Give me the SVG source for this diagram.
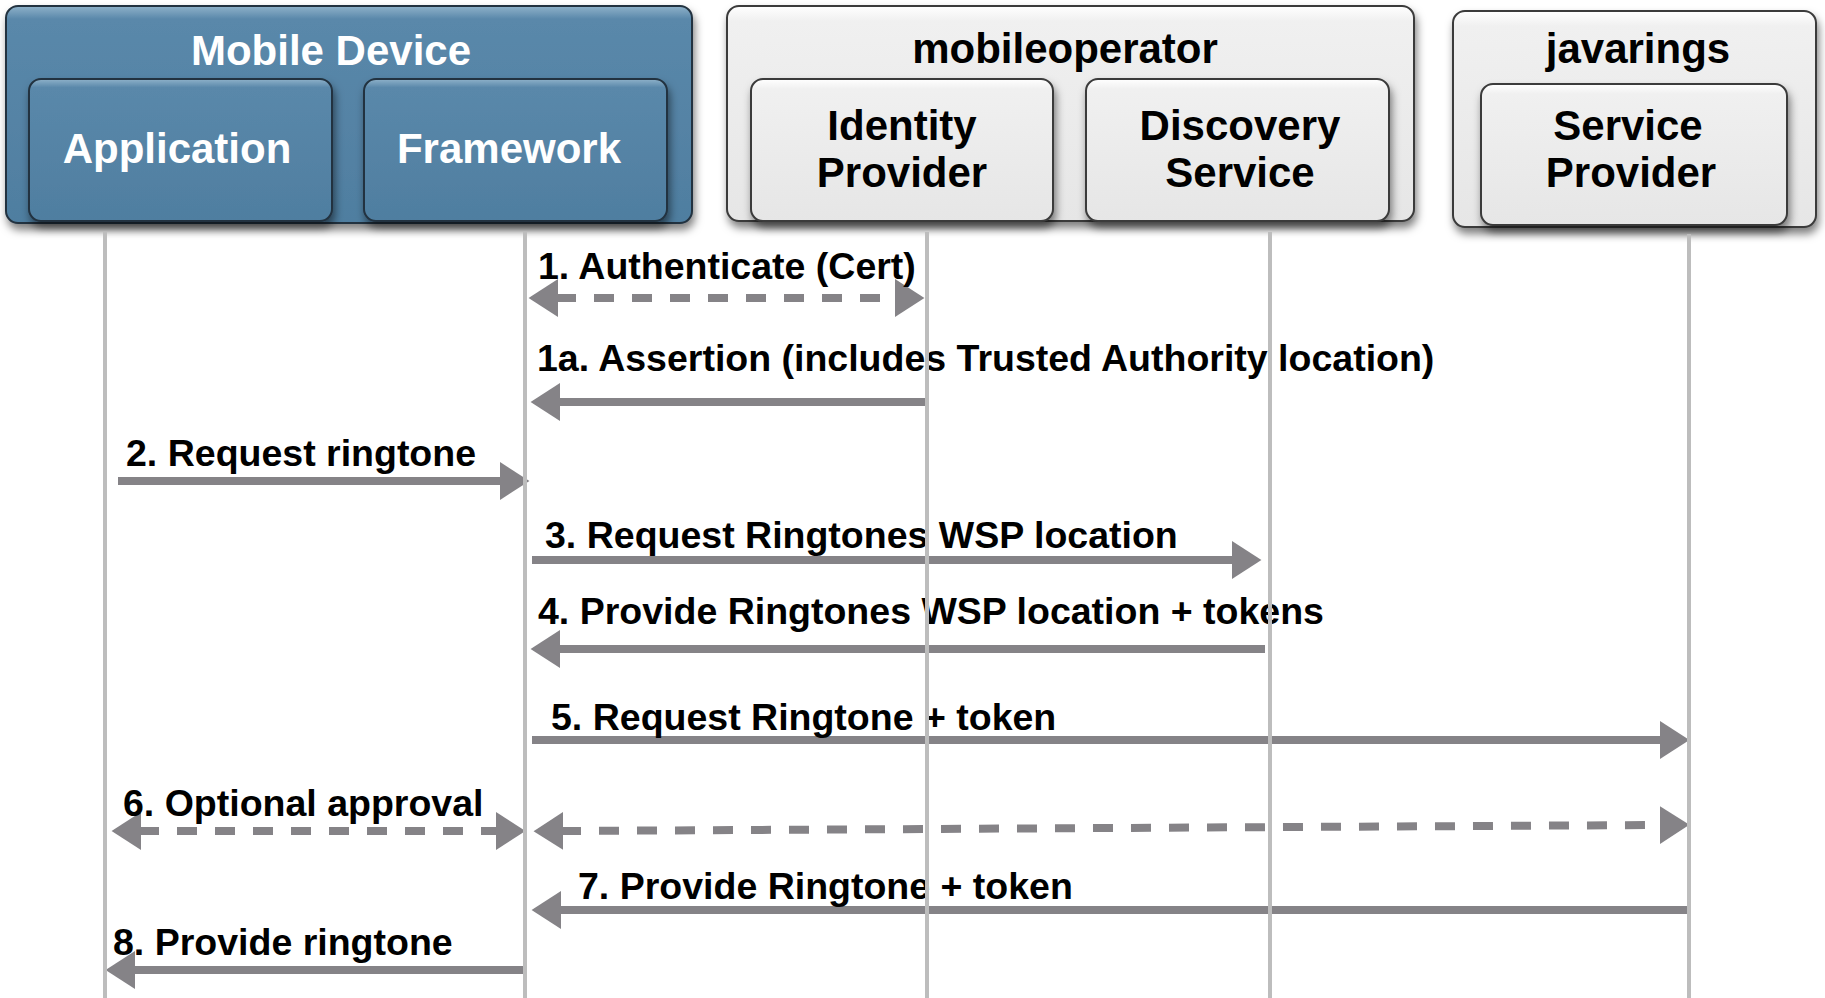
<svg xmlns="http://www.w3.org/2000/svg" width="1825" height="998" viewBox="0 0 1825 998">
<defs>
<filter id="sh" x="-10%" y="-10%" width="120%" height="130%">
<feDropShadow dx="2" dy="6" stdDeviation="4" flood-color="#000" flood-opacity="0.5"/>
</filter>
<linearGradient id="blue" x1="0" y1="0" x2="0" y2="1">
<stop offset="0" stop-color="#8fb2ca"/>
<stop offset="0.06" stop-color="#5a88aa"/>
<stop offset="1" stop-color="#4f7ea0"/>
</linearGradient>
<linearGradient id="gray" x1="0" y1="0" x2="0" y2="1">
<stop offset="0" stop-color="#ffffff"/>
<stop offset="0.07" stop-color="#f0f0f0"/>
<stop offset="1" stop-color="#e6e6e6"/>
</linearGradient>
<marker id="ah" markerUnits="userSpaceOnUse" markerWidth="30" markerHeight="38" viewBox="0 0 28 36" refX="2" refY="18" orient="auto-start-reverse">
<path d="M0,0 L28,18 L0,36 z" fill="#858387"/>
</marker>
<style>
.bo{fill:url(#blue);stroke:#22323f;stroke-width:2;filter:url(#sh)}
.go{fill:url(#gray);stroke:#3a3a3a;stroke-width:2;filter:url(#sh)}
.t{font-family:"Liberation Sans",Arial,sans-serif;font-weight:bold;font-size:42px;text-anchor:middle}
.w{fill:#ffffff}
.k{fill:#000000}
.life{stroke:#bdbdbd;stroke-width:4;fill:none}
.ar{stroke:#858387;stroke-width:8;fill:none;marker-end:url(#ah)}
.dd{stroke:#858387;stroke-width:8;fill:none;stroke-dasharray:20 18;marker-start:url(#ah);marker-end:url(#ah)}
.lb{font-family:"Liberation Sans",Arial,sans-serif;font-weight:bold;font-size:37.5px;fill:#000}
</style>
</defs>

<g id="mobile-device">
<rect class="bo" x="6" y="6" width="686" height="217" rx="12"/>
<text class="t w" x="331" y="65">Mobile Device</text>
</g>
<g id="application">
<rect class="bo" x="29" y="79" width="303" height="142" rx="12"/>
<text class="t w" x="177" y="163">Application</text>
</g>
<g id="framework">
<rect class="bo" x="364" y="79" width="303" height="142" rx="12"/>
<text class="t w" x="509" y="163">Framework</text>
</g>

<g id="mobileoperator">
<rect class="go" x="727" y="6" width="687" height="215" rx="12"/>
<text class="t k" x="1065" y="63">mobileoperator</text>
</g>
<g id="identity-provider">
<rect class="go" x="751" y="79" width="302" height="142" rx="12"/>
<text class="t k" x="902" y="140">Identity</text>
<text class="t k" x="902" y="187">Provider</text>
</g>
<g id="discovery-service">
<rect class="go" x="1086" y="79" width="303" height="142" rx="12"/>
<text class="t k" x="1240" y="140">Discovery</text>
<text class="t k" x="1240" y="187">Service</text>
</g>

<g id="javarings">
<rect class="go" x="1453" y="11" width="363" height="216" rx="12"/>
<text class="t k" x="1638" y="63">javarings</text>
</g>
<g id="service-provider">
<rect class="go" x="1481" y="84" width="306" height="141" rx="12"/>
<text class="t k" x="1628" y="140">Service</text>
<text class="t k" x="1631" y="187">Provider</text>
</g>

<g id="connectors">
<path class="dd" d="M556,298 L897,298"/>
<path class="ar" d="M928,402 L558,402"/>
<path class="ar" d="M118,481 L502,481"/>
<path class="ar" d="M532,560 L1234,560"/>
<path class="ar" d="M1265,649 L558,649"/>
<path class="ar" d="M532,740 L1662,740"/>
<path class="dd" d="M139,831 L498,831"/>
<path class="dd" d="M561,831 L1662,825"/>
<path class="ar" d="M1689,910 L559,910"/>
<path class="ar" d="M524,970 L133,970"/>
</g>

<g id="labels">
<text class="lb" x="538" y="279">1. Authenticate (Cert)</text>
<text class="lb" x="537" y="371">1a. Assertion (includes Trusted Authority location)</text>
<text class="lb" x="126" y="466">2. Request ringtone</text>
<text class="lb" x="545" y="548">3. Request Ringtones WSP location</text>
<text class="lb" x="538" y="624">4. Provide Ringtones WSP location + tokens</text>
<text class="lb" x="551" y="730">5. Request Ringtone + token</text>
<text class="lb" x="123" y="816">6. Optional approval</text>
<text class="lb" x="578" y="899">7. Provide Ringtone + token</text>
<text class="lb" x="113" y="955">8. Provide ringtone</text>
</g>

<g id="lifelines">
<line class="life" x1="105" y1="232" x2="105" y2="998"/>
<line class="life" x1="525" y1="232" x2="525" y2="998"/>
<line class="life" x1="927" y1="232" x2="927" y2="998"/>
<line class="life" x1="1270" y1="232" x2="1270" y2="998"/>
<line class="life" x1="1689" y1="234" x2="1689" y2="998"/>
</g>
</svg>
